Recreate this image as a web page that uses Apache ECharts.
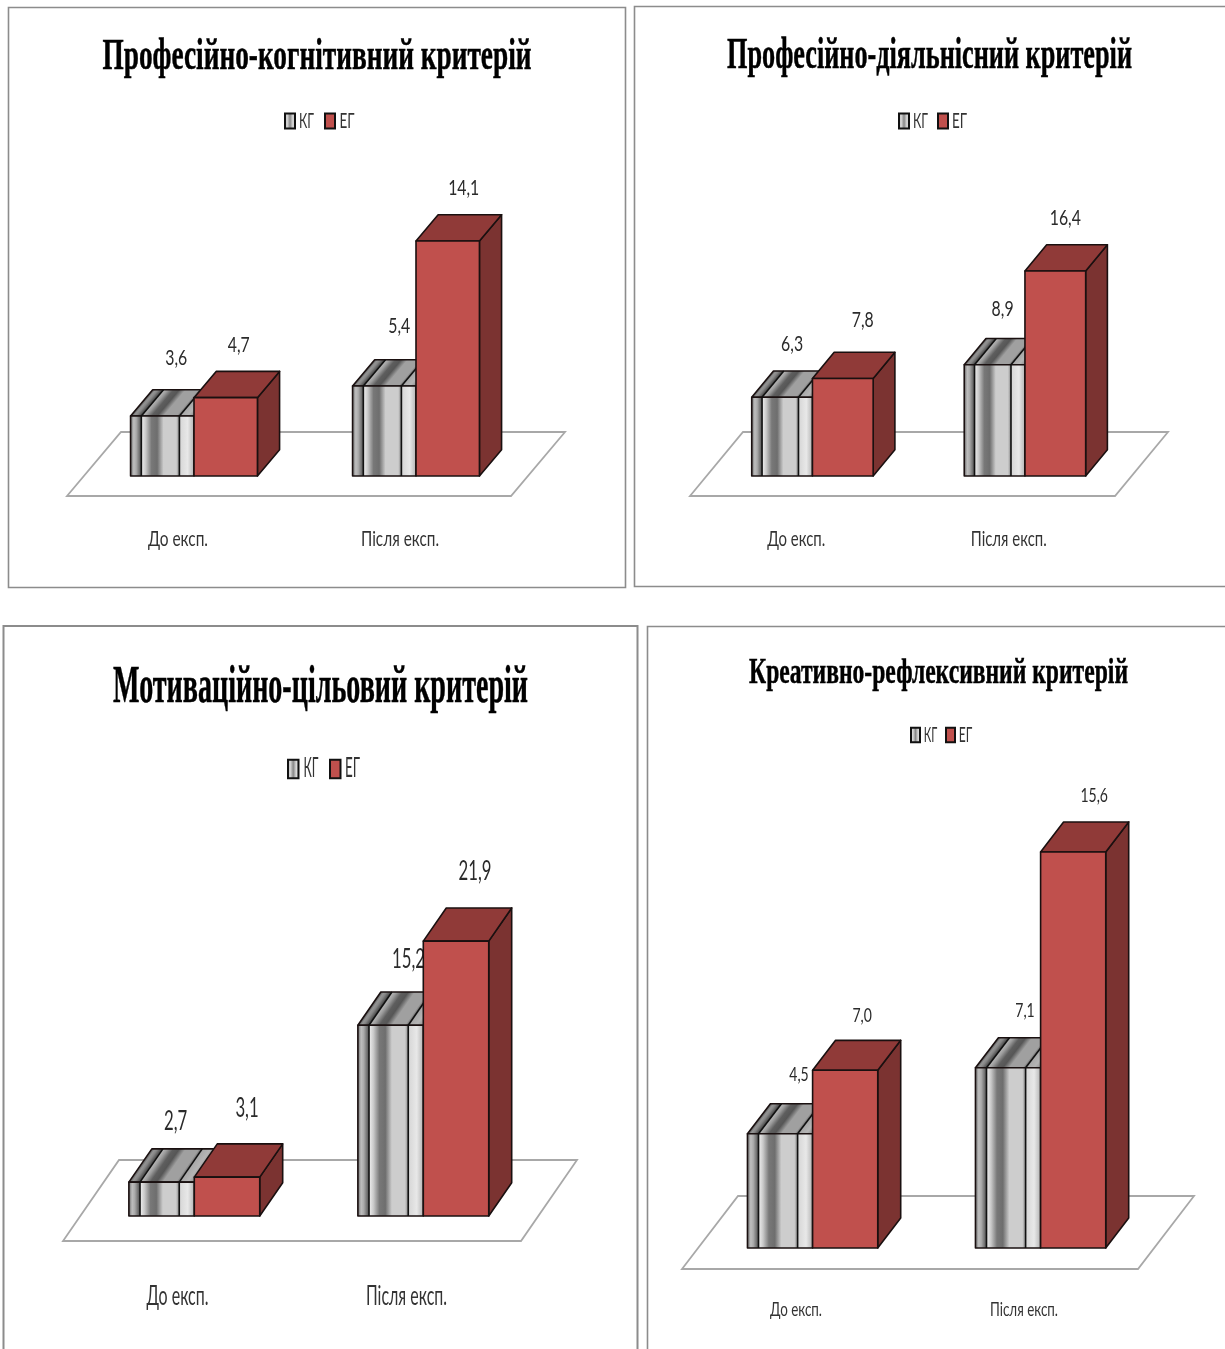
<!DOCTYPE html>
<html>
<head>
<meta charset="utf-8">
<title>Критерії сформованості</title>
<style>
  html, body { margin: 0; padding: 0; background: #fff; overflow: hidden; }
  #chart { width: 1225px; height: 1349px; }
</style>
<script src="https://cdn.jsdelivr.net/npm/echarts@6/dist/echarts.min.js"></script>
</head>
<body>
<div id="chart"></div>
<script>
// Chart content
const categories = ['До експ.', 'Після експ.'];
const seriesNames = ['КГ', 'ЕГ'];
const panelTitles = [
  'Професійно-когнітивний критерій',
  'Професійно-діяльнісний критерій',
  'Мотиваційно-цільовий критерій',
  'Креативно-рефлексивний критерій'
];
const kgCognitive = [3.6, 5.4];
const egCognitive = [4.7, 14.1];
const kgActivity = [6.3, 8.9];
const egActivity = [7.8, 16.4];
const kgMotivation = [2.7, 15.2];
const egMotivation = [3.1, 21.9];
const kgCreative = [4.5, 7.1];
const egCreative = [7.0, 15.6];

// Layout of the four panels: frame, plot area, floor depth and text sizes
const panels = [
  {
    kg: kgCognitive, eg: egCognitive, max: 16,
    frame: [8.5, 7.5, 617, 580], frameWidth: 1.6,
    left: 67, right: 511, base: 496, plotH: 266.7, dx: 54, dy: 64, gap: [16, 20],
    title: { x: 317, y: 58, w: 429, size: 44 },
    legend: { swatch: [285, 325], text: [306.5, 347], cy: 121, w: 10, h: 15, size: 22, tw: 15 },
    value: { size: 22, sx: 0.72 }, cat: { y: 539, size: 22, w: [60, 78] },
    shifts: [[[14, -58], [15, -60]], [[13, -53], [16, -53]]]
  },
  {
    kg: kgActivity, eg: egActivity, max: 18,
    frame: [634.5, 6.5, 600, 580], frameWidth: 1.6,
    left: 690, right: 1115, base: 496, plotH: 225, dx: 53, dy: 64, gap: [16.2, 20],
    title: { x: 929.5, y: 57, w: 405, size: 44 },
    legend: { swatch: [899, 938], text: [920.5, 959.5], cy: 121, w: 10, h: 15, size: 22, tw: 15 },
    value: { size: 22, sx: 0.72 }, cat: { y: 539, size: 22, w: [58, 76] },
    shifts: [[[10, -53], [8, -56]], [[20, -59], [10, -53]]]
  },
  {
    kg: kgMotivation, eg: egMotivation, max: 25,
    frame: [3.5, 626, 634, 760], frameWidth: 2,
    left: 63, right: 521, base: 1241, plotH: 313.75, dx: 56, dy: 81, gap: [16.8, 25],
    title: { x: 320.5, y: 689, w: 415, size: 52 },
    legend: { swatch: [288, 330], text: [311, 352.5], cy: 769, w: 10.5, h: 18.5, size: 26, tw: 15 },
    value: { size: 27, sx: 0.62 }, cat: { y: 1296, size: 27, w: [62, 81] },
    shifts: [[[14, -61], [18, -66]], [[20, -69], [19, -70]]]
  },
  {
    kg: kgCreative, eg: egCreative, max: 18,
    frame: [647.5, 626.5, 600, 760], frameWidth: 1.6,
    left: 682, right: 1138, base: 1269, plotH: 457, dx: 56, dy: 73, gap: [16.6, 21],
    title: { x: 938.5, y: 674, w: 379, size: 36 },
    legend: { swatch: [911, 946], text: [930.5, 965.5], cy: 735, w: 9, h: 14.5, size: 21, tw: 13.5 },
    value: { size: 20, sx: 0.7 }, cat: { y: 1310, size: 20, w: [52, 68] },
    shifts: [[[19, -59], [17, -57]], [[17, -55], [21, -56]]]
  }
];

const BAR_DEPTH = 0.41;   // bar depth as a share of the floor depth
const BAR_SHARE = 2 / 7;  // bar width as a share of a category band
const SANS = 'Lato, "Open Sans", sans-serif';
const SERIF = '"Liberation Serif", serif';

// Grey levels across the striped КГ bar
const stripeStops = [
  [0, 110], [0.05, 190], [0.09, 170], [0.16, 90], [0.18, 235], [0.24, 200],
  [0.33, 120], [0.42, 110], [0.52, 205], [0.72, 205], [0.765, 140], [0.78, 215],
  [0.9, 232], [1, 180]
];
const stripeLines = [0.17, 0.77];

function greyStops(factor) {
  return stripeStops.map(function (s) {
    const g = Math.round(s[1] * factor);
    return { offset: s[0], color: 'rgb(' + g + ',' + g + ',' + g + ')' };
  });
}

function gradient(x, y, x2, y2, factor) {
  return { type: 'linear', x: x, y: y, x2: x2, y2: y2, global: true, colorStops: greyStops(factor) };
}

const measure = document.createElement('canvas').getContext('2d');
function fitScale(text, size, family, weight, width) {
  measure.font = (weight || 'normal') + ' ' + size + 'px ' + family;
  return width / measure.measureText(text).width;
}

function squeezedText(text, x, y, size, sx, family, fill, weight) {
  return {
    type: 'text', x: x, y: y, scaleX: sx,
    style: {
      text: text, fontSize: size, fontFamily: family, fontWeight: weight || 'normal',
      fill: fill, textAlign: 'center', textVerticalAlign: 'middle'
    }
  };
}

function poly(points, fill, lineWidth) {
  return {
    type: 'polygon', shape: { points: points },
    style: { fill: fill, stroke: '#1a1010', lineWidth: lineWidth || 1.6, lineJoin: 'round' }
  };
}

function line(x1, y1, x2, y2) {
  return { type: 'line', shape: { x1: x1, y1: y1, x2: x2, y2: y2 }, style: { stroke: '#111', lineWidth: 1.6 } };
}

// Floor plate and category captions, one item per category
function renderFloor(panel) {
  return function (params, api) {
    const cs = params.coordSys;
    const children = [];
    if (params.dataIndex === 0) {
      const bottom = cs.y + cs.height;
      children.push({
        type: 'polygon',
        shape: { points: [
          [cs.x, bottom], [cs.x + cs.width, bottom],
          [cs.x + cs.width + panel.dx, bottom - panel.dy], [cs.x + panel.dx, bottom - panel.dy]
        ] },
        style: { fill: '#fff', stroke: '#a8a8a8', lineWidth: 1.8 }
      });
    }
    const name = categories[api.value(0)];
    const center = api.coord([api.value(0), 0])[0];
    const sx = fitScale(name, panel.cat.size, SANS, 'normal', panel.cat.w[params.dataIndex]);
    children.push(squeezedText(name, center, panel.cat.y, panel.cat.size, sx, SANS, '#333'));
    return { type: 'group', children: children };
  };
}

// One 3D column: front, top and side faces with the value caption above
function renderBar(panel, seriesIndex) {
  return function (params, api) {
    const cat = api.value(0);
    const value = api.value(1);
    const band = api.size([1, 0])[0];
    const w = band * BAR_SHARE;
    const origin = api.coord([cat, 0]);
    const top = api.coord([cat, value])[1] - panel.gap[1];
    const bottom = origin[1] - panel.gap[1];
    const x0 = origin[0] + panel.gap[0] + (seriesIndex === 0 ? -w : 0);
    const x1 = x0 + w;
    const ddx = panel.dx * BAR_DEPTH;
    const ddy = panel.dy * BAR_DEPTH;
    const children = [];

    if (seriesIndex === 0) {
      // Stripes on the top face run along the depth direction
      const len = ddx * ddx + ddy * ddy;
      const k = w * ddy * ddy / len;
      const gx = x0 + k;
      const gy = top + k * ddx / ddy;
      children.push(poly([[x0, top], [x1, top], [x1 + ddx, top - ddy], [x0 + ddx, top - ddy]],
        gradient(x0, top, gx, gy, 0.78)));
      children.push(poly([[x0, top], [x1, top], [x1, bottom], [x0, bottom]],
        gradient(x0, 0, x1, 0, 1)));
      stripeLines.forEach(function (t) {
        const lx = x0 + w * t;
        children.push(line(lx, top, lx, bottom));
        children.push(line(lx, top, lx + ddx, top - ddy));
      });
    } else {
      children.push(poly([[x1, top], [x1 + ddx, top - ddy], [x1 + ddx, bottom - ddy], [x1, bottom]], '#7b3331'));
      children.push(poly([[x0, top], [x1, top], [x1 + ddx, top - ddy], [x0 + ddx, top - ddy]], '#903a38'));
      children.push(poly([[x0, top], [x1, top], [x1, bottom], [x0, bottom]], '#c0504d'));
    }

    const shift = panel.shifts[seriesIndex][params.dataIndex];
    children.push(squeezedText(value.toFixed(1).replace('.', ','),
      (x0 + x1) / 2 + shift[0], top + shift[1], panel.value.size, panel.value.sx, SANS, '#2b2b2b'));
    return { type: 'group', children: children };
  };
}

const grid = [], xAxis = [], yAxis = [], series = [], graphicElements = [];
const kgSwatchFill = {
  type: 'linear', x: 0, y: 0, x2: 1, y2: 0,
  colorStops: [
    { offset: 0, color: '#888' }, { offset: 0.25, color: '#ddd' }, { offset: 0.5, color: '#888' },
    { offset: 0.75, color: '#ddd' }, { offset: 1, color: '#999' }
  ]
};

panels.forEach(function (p, i) {
  grid.push({ left: p.left, width: p.right - p.left, top: p.base - p.plotH, height: p.plotH, containLabel: false });
  xAxis.push({
    type: 'category', gridIndex: i, data: categories,
    axisLine: { show: false }, axisTick: { show: false }, axisLabel: { show: false }, splitLine: { show: false }
  });
  yAxis.push({ type: 'value', gridIndex: i, min: 0, max: p.max, show: false });

  series.push({
    type: 'custom', xAxisIndex: i, yAxisIndex: i, silent: true, z: 1,
    renderItem: renderFloor(p),
    data: categories.map(function (c, k) { return [k, 0]; })
  });
  [p.kg, p.eg].forEach(function (values, s) {
    series.push({
      type: 'custom', name: seriesNames[s], xAxisIndex: i, yAxisIndex: i, silent: true, z: 2,
      itemStyle: { color: s === 0 ? '#bbbbbb' : '#c0504d' },
      renderItem: renderBar(p, s),
      encode: { x: 0, y: 1 },
      data: values.map(function (v, k) { return [k, v]; })
    });
  });

  // Frame around the panel
  graphicElements.push({
    type: 'rect', z: 0, silent: true,
    shape: { x: p.frame[0], y: p.frame[1], width: p.frame[2], height: p.frame[3] },
    style: { fill: '#fff', stroke: '#8c8c8c', lineWidth: p.frameWidth }
  });

  // Panel heading
  graphicElements.push({
    type: 'text', z: 5, silent: true, x: p.title.x, y: p.title.y,
    scaleX: fitScale(panelTitles[i], p.title.size, SERIF, 'bold', p.title.w),
    style: {
      text: panelTitles[i], fontSize: p.title.size, fontFamily: SERIF, fontWeight: 'bold',
      fill: '#000', stroke: '#000', lineWidth: 0.5, textAlign: 'center', textVerticalAlign: 'middle'
    }
  });

  // Series key: bordered swatch plus squeezed caption
  seriesNames.forEach(function (name, s) {
    graphicElements.push({
      type: 'rect', z: 5, silent: true,
      shape: { x: p.legend.swatch[s], y: p.legend.cy - p.legend.h / 2, width: p.legend.w, height: p.legend.h },
      style: { fill: s === 0 ? kgSwatchFill : '#c0504d', stroke: '#111', lineWidth: 2 }
    });
    graphicElements.push({
      type: 'text', z: 5, silent: true, x: p.legend.text[s], y: p.legend.cy,
      scaleX: fitScale(name, p.legend.size, SANS, 'normal', p.legend.tw),
      style: {
        text: name, fontSize: p.legend.size, fontFamily: SANS, fill: '#333',
        textAlign: 'center', textVerticalAlign: 'middle'
      }
    });
  });
});

const chart = echarts.init(document.getElementById('chart'), null, { renderer: 'canvas' });
chart.setOption({
  animation: false,
  backgroundColor: '#fff',
  grid: grid, xAxis: xAxis, yAxis: yAxis, series: series,
  graphic: { elements: graphicElements }
});
</script>
</body>
</html>
